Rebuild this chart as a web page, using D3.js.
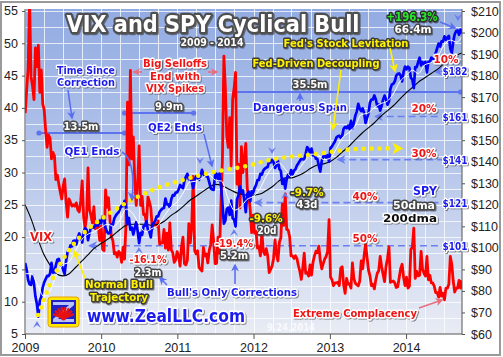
<!DOCTYPE html>
<html><head><meta charset="utf-8">
<script src="https://cdn.jsdelivr.net/npm/d3@7"></script>
<style>
html,body{margin:0;padding:0;background:#fff;}
svg{display:block;}
</style></head><body>
<svg id="c" width="503" height="357"></svg>
<script>
// ---------------- DATA ----------------
// Weekly VIX (Fridays from 2009-01-02)
const vixValues = [
 39.2,42.8,46.1,56.6,44.8,43.4,41.3,49.3,46.4,49.7,42.4,45.9,40.6,39.7,36.5,33.9,35.8,35.3,32.1,33.1,
 32.6,28.9,29.6,28.2,27.0,25.9,27.9,29.0,25.4,23.1,25.9,25.4,24.8,25.0,24.8,25.3,24.2,23.9,25.6,28.7,
 23.1,21.4,23.1,30.7,24.2,23.4,22.2,24.7,21.3,21.6,21.7,19.5,
 21.7,18.1,17.9,27.3,24.6,26.1,22.7,20.0,19.5,17.4,17.6,16.9,17.8,17.5,16.1,18.4,16.6,22.1,40.9,31.2,
 45.8,32.1,35.5,28.6,24.9,28.5,34.1,24.9,26.3,23.5,23.5,22.1,26.2,25.5,24.5,21.3,22.0,22.0,21.7,22.5,
 18.9,19.1,19.1,21.2,18.3,20.6,18.0,22.2,18.0,17.6,16.1,16.5,17.75,
 17.1,15.5,18.5,20.0,15.9,15.7,16.4,22.1,19.1,21.7,29.4,17.9,17.4,17.9,15.3,15.0,14.75,18.4,17.1,17.4,
 16.0,17.95,18.9,21.9,19.3,15.9,15.95,20.0,17.5,25.3,32.0,48.0,43.1,35.6,33.9,38.5,31.0,41.3,43.0,45.5,
 28.2,31.3,24.5,34.0,30.0,32.0,34.5,27.5,26.4,24.3,20.7,23.4,
 20.6,20.9,18.3,18.5,17.1,20.8,17.8,17.3,18.2,17.1,14.5,15.0,15.5,16.7,19.55,17.4,16.3,19.2,19.9,25.1,
 21.8,26.7,21.2,21.1,20.1,17.1,17.1,16.7,17.1,16.7,15.6,14.7,13.45,15.2,17.5,14.4,14.5,13.98,15.7,14.1,
 16.1,17.1,17.8,17.6,18.6,16.4,15.1,15.9,16.6,17.0,17.8,22.7,
 13.8,13.4,12.5,12.9,12.9,13.0,12.5,15.2,15.4,12.6,11.3,13.6,12.7,12.8,12.1,16.0,13.6,12.85,12.6,12.45,
 13.2,16.3,15.1,17.15,18.9,16.9,14.9,14.0,12.5,12.7,11.98,13.4,14.4,14.8,17.0,15.4,14.2,13.1,15.5,16.7,
 18.5,13.0,13.1,13.2,12.9,12.2,12.3,13.7,15.1,15.8,13.8,12.5,
 13.8,12.1,12.4,18.1,18.4,21.4,13.6,14.7,14.0,14.1,17.8,15.0,14.4,13.96,17.0,13.4,14.1,12.9,12.9,12.4,
 11.4,11.4,10.7,12.2,10.85,11.3,10.3,12.1,12.1,12.7,17.0,15.8,13.2,11.5,12.1,12.1,13.3,12.1,13.3
];
// Weekly SPY closes (same weeks)
const spyValues = [
 92.96,89.7,85.1,83.1,82.8,87.0,83.4,77.4,73.9,68.1,75.5,77.3,81.7,84.0,85.5,87.0,86.9,88.0,93.0,88.5,
 88.7,92.0,94.5,94.9,92.2,91.9,89.8,87.9,94.0,97.9,98.8,101.1,100.7,103.2,103.4,101.6,104.8,106.7,104.4,102.5,
 107.3,109.2,108.4,103.6,106.8,109.6,109.4,109.5,110.5,110.4,110.4,112.6,
 111.4,114.6,113.6,109.2,107.4,106.7,107.0,110.9,110.7,113.7,115.0,115.9,116.6,118.3,119.6,119.4,121.8,118.8,111.3,113.9,
 108.5,109.4,106.2,109.1,112.0,107.7,102.2,107.0,106.0,110.0,110.3,112.4,108.3,107.5,104.9,110.9,111.5,112.6,114.6,114.6,
 116.7,117.6,118.3,118.5,122.9,120.2,120.2,118.8,122.6,124.5,124.3,125.7,125.75,
 127.1,129.2,128.4,127.7,131.2,133.0,134.4,131.9,132.3,130.8,127.8,131.5,133.2,132.8,131.6,133.5,136.2,134.2,133.5,133.2,
 133.0,130.4,127.6,127.1,126.9,133.9,134.4,131.4,134.5,129.3,120.5,111.3,112.6,118.1,118.7,115.3,121.9,113.8,113.2,109.9,
 122.6,124.3,128.6,125.9,126.7,121.98,116.6,124.98,126.1,121.6,126.2,125.5,
 127.8,129.1,131.5,131.6,134.4,134.0,136.0,136.8,137.3,137.6,140.3,139.7,140.8,139.8,137.1,138.3,140.4,136.6,135.7,129.7,
 131.9,127.5,132.0,134.1,133.1,136.1,134.1,135.9,136.5,138.3,139.3,140.4,141.4,141.1,141.2,143.8,146.8,146.0,143.97,146.1,
 142.9,143.4,141.4,141.3,138.1,135.4,140.4,142.4,142.8,141.95,143.0,140.0,
 146.4,147.1,148.3,149.4,151.2,151.8,152.1,151.1,152.1,155.4,156.2,155.6,156.7,155.2,159.0,155.5,158.2,161.4,163.4,166.9,
 164.6,163.5,164.8,162.6,158.0,160.4,162.5,167.5,168.9,168.9,170.8,168.9,165.8,166.6,163.7,166.0,168.9,170.7,168.9,166.5,
 168.0,173.8,175.9,176.2,177.3,180.0,180.8,181.0,180.0,177.3,181.6,184.2,
 182.9,184.1,183.6,179.0,178.2,174.2,184.0,183.9,186.3,188.3,184.7,186.2,185.4,186.4,181.5,186.4,186.3,188.3,187.9,188.0,
 190.4,192.7,194.9,193.5,195.9,195.8,198.2,196.7,197.7,198.4,192.5,190.5,195.7,199.2,200.7,200.96,198.98,201.3,199.6
];
// Monthly moving averages (1st of month Jan 2009 .. Sep 2014, then 2014-09-24)
const sma50Values = [
 88,88,83,77.5,80,87.5,92,93.5,99,104,106.5,107.5,
 109.5,111,110,113,118,116,111,107.5,109,110.5,115,119,
 121.5,126,130.5,131,132.5,134,131.5,131,123,117.5,119,122.5,
 124,127.5,133,137.5,139.5,136.5,133,136,140,143.5,143.5,141,
 141.5,146,151,153.5,156.5,162,162.5,165,167,168,171.5,177,
 180,182.5,181,185,186,188.5,194,196.5,195.5,198
];
const sma200Values = [
 120,113,105,97,92,88,87,88,91,94,97,100,
 102,104,106,108.5,110.5,111,111,111,110.5,111,112.5,115,
 117,119.5,122,124,126,128,129.5,129,127.5,126,125,124.5,
 124.5,125,126.5,128.5,131,132.5,132.5,133.5,135,137,138.5,139,
 140,142,144.5,147,150,153,155.5,158,161,163.5,166,169,
 172,174.5,177,179,181,183,185.5,188,189.5,190.5
];
// "Normal bull trajectory" (yellow dots), SPY units
const trajDates = ["2009-03-05","2009-05-15","2009-07-24","2009-10-15","2010-01-15","2010-04-22","2010-09-05",
 "2011-01-25","2011-06-25","2011-11-28","2012-03-18","2012-10-30","2013-05-08","2013-10-22"];
const trajValues = [68.8,86,98,107.4,114.3,120.4,126.9,131.5,135.2,138,140.8,143.6,145.9,146.2];
// Correction levels below the $201 high
const levelValues = [101,121,141,161,182];
const levelPcts = ["50%","40%","30%","20%","10%"];
const levelStarts = ["2009-10-20","2011-12-22","2013-01-22","2013-07-20","2014-05-01"];
const vixTicks = [5,10,15,20,25,30,35,40,45,50,55];
const spyTicks = [60,70,80,90,100,110,120,130,140,150,160,170,180,190,200,210];
const yearTicks = ["2009","2010","2011","2012","2013","2014"];

// ---------------- SETUP ----------------
const P = d3.timeParse("%Y-%m-%d");
const W = 503, H = 357;
const L = 25, R = 462, T = 9, B = 334;
const svg = d3.select("#c");
const x = d3.scaleTime().domain([new Date(2009,0,1), new Date(2014,8,26)]).range([L, R]);
const yV = d3.scaleLinear().domain([5,55]).range([B, B-323]);
const yS = d3.scaleLinear().domain([60,210]).range([B, B-323]);
const weekDates = d3.range(vixValues.length).map(i => d3.timeDay.offset(new Date(2009,0,2), 7*i));
const monthDates = d3.timeMonth.range(new Date(2009,0,1), new Date(2014,8,2)).concat([new Date(2014,8,24)]);

const defs = svg.append("defs");
const gr = defs.append("linearGradient").attr("id","bg").attr("x1",0).attr("y1",0).attr("x2",0).attr("y2",1);
gr.append("stop").attr("offset","0%").attr("stop-color","#92abe2");
gr.append("stop").attr("offset","45%").attr("stop-color","#b3c4ea");
gr.append("stop").attr("offset","100%").attr("stop-color","#e9ecf4");
defs.append("clipPath").attr("id","clip").append("rect").attr("x",L).attr("y",T).attr("width",R-L).attr("height",B-T);
const sh = defs.append("filter").attr("id","sh").attr("x","-10%").attr("y","-30%").attr("width","120%").attr("height","160%");
sh.append("feDropShadow").attr("dx",1).attr("dy",1).attr("stdDeviation",0.7).attr("flood-color","#333").attr("flood-opacity",0.55);
function marker(id, color, w){
  defs.append("marker").attr("id",id).attr("viewBox","0 0 10 10").attr("refX",8).attr("refY",5)
    .attr("markerWidth",w||6).attr("markerHeight",w||6).attr("orient","auto-start-reverse").attr("markerUnits","userSpaceOnUse")
    .append("path").attr("d","M0,0 L10,5 L0,10 L3,5 z").attr("fill",color);
}
marker("aB","#5a6ff0",8); marker("aY","#fff000",9); marker("aR","#e8707e",8); marker("aL","#6b7ff2",9);

// frame + plot bg
svg.append("rect").attr("x",1).attr("y",2).attr("width",W-4).attr("height",H-4).attr("fill","#fff").attr("stroke","#9a9a9a").attr("stroke-width",2);
svg.append("rect").attr("x",L).attr("y",T).attr("width",R-L).attr("height",B-T).attr("fill","url(#bg)");

// grid
const grid = svg.append("g").attr("stroke","#ffffff").attr("stroke-opacity",0.75).attr("stroke-width",1);
d3.range(5,55.1,2.5).forEach(v => grid.append("line").attr("x1",L).attr("x2",R).attr("y1",Math.round(yV(v))+0.5).attr("y2",Math.round(yV(v))+0.5));
d3.timeMonth.every(3).range(new Date(2009,0,1), new Date(2014,9,1)).forEach(d => grid.append("line")
  .attr("x1",Math.round(x(d))+0.5).attr("x2",Math.round(x(d))+0.5).attr("y1",T).attr("y2",B));

const plot = svg.append("g").attr("clip-path","url(#clip)");

// correction level dashed lines
levelValues.forEach((v,i) => {
  const x1 = x(P(levelStarts[i])), x2 = i===4 ? x(P("2014-07-05")) : 442;
  plot.append("line").attr("x1",x1+4).attr("x2",x2).attr("y1",yS(v)).attr("y2",yS(v))
    .attr("stroke","#6b7ff2").attr("stroke-width",1.6).attr("stroke-dasharray", i===4 ? null : "7,4")
    .attr("marker-start","url(#aL)");
});

// span lines
function span(d1,d2,yy){
  const g = plot.append("g");
  g.append("line").attr("x1",x(P(d1))).attr("x2",x(P(d2))).attr("y1",yy).attr("y2",yy).attr("stroke","#5e74ee").attr("stroke-width",2);
  [d1,d2].forEach(d => g.append("circle").attr("cx",x(P(d))).attr("cy",yy).attr("r",2.6).attr("fill","#5e74ee"));
}
span("2009-03-09","2010-04-23",133);
span("2010-04-23","2011-03-20",113);
span("2011-10-03","2014-09-19",92);

// VIX
plot.append("path").datum(vixValues.map((v,i)=>[x(weekDates[i]), yV(v)]))
  .attr("d", d3.line()).attr("fill","none").attr("stroke","#ff0000").attr("stroke-width",2.8).attr("stroke-linejoin","round");
// 200dma
plot.append("path").datum(sma200Values.map((v,i)=>[x(monthDates[i]), yS(v)]))
  .attr("d", d3.line().curve(d3.curveMonotoneX)).attr("fill","none").attr("stroke","#000").attr("stroke-width",1.1);
// SPY
plot.append("path").datum(spyValues.map((v,i)=>[x(weekDates[i]), yS(v)]))
  .attr("d", d3.line()).attr("fill","none").attr("stroke","#0000ff").attr("stroke-width",2.7).attr("stroke-linejoin","round");
// 50dma
plot.append("path").datum(sma50Values.map((v,i)=>[x(monthDates[i]), yS(v)]))
  .attr("d", d3.line().curve(d3.curveMonotoneX)).attr("fill","none").attr("stroke","#fff").attr("stroke-width",1);
// trajectory dots
plot.append("path").datum(trajValues.map((v,i)=>[x(P(trajDates[i])), yS(v)]))
  .attr("d", d3.line().curve(d3.curveMonotoneX)).attr("fill","none").attr("stroke","#ffee00")
  .attr("stroke-width",4.6).attr("stroke-linecap","round").attr("stroke-dasharray","0,8");
{
  const ex = x(P(trajDates[trajDates.length-1])), ey = yS(trajValues[trajValues.length-1]);
  plot.append("path").attr("d",`M${ex+1},${ey-6} L${ex+12},${ey} L${ex+1},${ey+6} L${ex+4},${ey} z`).attr("fill","#ffee00");
}

// small chevrons
function chev(px,py,dir){
  const s = dir==="down" ? 1 : -1;
  svg.append("path").attr("d",`M${px-4},${py-4*s} L${px},${py+3*s} L${px+4},${py-4*s} L${px},${py-1*s} z`).attr("fill","#6a7cf0");
}
chev(37,324,"up"); chev(131,195,"down"); chev(200,161,"down"); chev(234,232,"up");
chev(272,151,"down"); chev(285,195,"up"); chev(458,18,"down"); chev(139,250,"up");

// axes
const axL = svg.append("g").attr("transform",`translate(${L},0)`).call(d3.axisLeft(yV).tickValues(vixTicks).tickSize(3).tickPadding(4));
const axR = svg.append("g").attr("transform",`translate(${R},0)`).call(d3.axisRight(yS).tickValues(spyTicks).tickSize(3).tickPadding(6).tickFormat(d=>"$"+d));
const axB = svg.append("g").attr("transform",`translate(0,${B})`).call(d3.axisBottom(x).tickValues(yearTicks.map(s=>new Date(+s,0,1))).tickSize(5).tickPadding(4).tickFormat(d3.timeFormat("%Y")));
[axL,axR,axB].forEach(a => {
  a.selectAll("path.domain").attr("stroke","#555");
  a.selectAll("line").attr("stroke","#555");
  a.selectAll("text").attr("font-family","'Liberation Sans',Arial,sans-serif").attr("font-size",12.5).attr("fill","#222");
});
axL.selectAll(".tick text").attr("dy","0.3em");
axL.select("path.domain").attr("d",`M0,${T}V${B}`);
axR.select("path.domain").attr("d",`M0,${T}V${B}`);
axB.select("path.domain").attr("d",`M${L},0H${R}`);

// ---------------- ANNOTATIONS ----------------
const ST = {
  wd:{fill:"#ffffff", stroke:"#474747"},
  bl:{fill:"#1b1bef", stroke:"#ffffff"},
  rd:{fill:"#f01414", stroke:"#ffffff"},
  yl:{fill:"#fff200", stroke:"#3a3a3a"},
  bk:{fill:"#111111", stroke:"#ffffff"},
  gr:{fill:"#2ae62a", stroke:"#2f2f2f"}
};
function label(cx, cy, s, st, fs, w, sw){
  const t = svg.append("text").attr("x",cx).attr("y",cy).attr("text-anchor","middle").attr("dominant-baseline","central")
    .attr("font-family","'DejaVu Sans',Verdana,sans-serif").attr("font-weight","bold").attr("font-size",fs)
    .attr("fill",ST[st].fill).attr("stroke",ST[st].stroke).attr("stroke-width",sw||3).attr("stroke-linejoin","round")
    .attr("paint-order","stroke").attr("filter","url(#sh)").text(s);
  if (w) t.attr("textLength",w).attr("lengthAdjust","spacingAndGlyphs");
  return t;
}
function arrow(d, color, m){
  svg.append("path").attr("d",d).attr("fill","none").attr("stroke",color).attr("stroke-width",1.6).attr("marker-end",`url(#${m})`);
}

// title
label(213, 24, "VIX and SPY Cyclical Bull", "wd", 23, 293, 4.5).attr("stroke","#505050");
label(212, 42, "2009 - 2014", "wd", 10, 63, 3);

label(86, 70, "Time Since", "bl", 11, 58);
label(86, 82, "Correction", "bl", 11, 58);
arrow("M68,90 L72,118", "#5a6ff0", "aB");
label(81, 126, "13.5m", "wd", 11, 35);

label(175, 63, "Big Selloffs", "rd", 11, 64);
label(175, 76, "End with", "rd", 11, 50);
label(175, 88, "VIX Spikes", "rd", 11, 58);
arrow("M142,72 L134,72", "#e8707e", "aR");
arrow("M208,72 L217,72", "#e8707e", "aR");
label(169, 106, "9.9m", "wd", 11, 28);

label(175, 127, "QE2 Ends", "bl", 11, 54);
arrow("M204,134 L212,166", "#5a6ff0", "aB");
label(92, 151, "QE1 Ends", "bl", 11, 55);
arrow("M122,152 Q136,160 132,200", "#5a6ff0", "aB");

label(41, 237, "VIX", "rd", 12, 22);
label(119, 284, "Normal Bull", "yl", 11, 68);
label(119, 297, "Trajectory", "yl", 11, 58);
arrow("M85,278 L74,251", "#fff000", "aY");

label(148, 259, "-16.1%", "rd", 11, 37);
label(148, 272, "2.3m", "wd", 11, 27);
label(232, 292, "Bull's Only Corrections", "bl", 11, 130);
arrow("M167,285 L160,278", "#5a6ff0", "aB");
arrow("M235,284 L235,265", "#5a6ff0", "aB");
label(234, 243, "-19.4%", "rd", 11, 38);
label(234, 255, "5.2m", "wd", 11, 28);

label(266, 218, "-9.6%", "yl", 11, 33);
label(267, 230, "20d", "wd", 11, 19);
label(307, 192, "-9.7%", "yl", 11, 33);
label(307, 204, "43d", "wd", 11, 21);

label(310, 84, "35.5m", "wd", 11, 35);
label(300, 107, "Dangerous Span", "bl", 11, 94);
arrow("M300,101 L300,94", "#5a6ff0", "aB");
label(316, 63, "Fed-Driven Decoupling", "yl", 11, 127);
arrow("M341,70 L333,129", "#fff000", "aY");
label(346, 43, "Fed's Stock Levitation", "yl", 11, 125);
arrow("M390,48 L395,71", "#fff000", "aY");
label(412, 17, "+196.3%", "gr", 12, 51);
label(413, 29, "66.4m", "wd", 11, 37);
arrow("M440,22 L455,28", "#5a6ff0", "aB");

// level labels
const pctPos = [[365,238],[365,196],[424,153],[424,108],[446,59]];
levelValues.forEach((v,i) => {
  label(pctPos[i][0], pctPos[i][1], levelPcts[i], "rd", 11, 25);
  label(455, yS(v), "$"+v, "bl", 10.5, 25, 2.6);
});

label(425, 191, "SPY", "bl", 12, 24);
label(414, 205, "50dma", "wd", 11, 42);
label(410, 218, "200dma", "bk", 11, 54);

label(355, 313, "Extreme Complacency", "rd", 11, 124);
arrow("M419,308 L442,300", "#e8707e", "aR");
svg.append("text").attr("x",291).attr("y",327).attr("text-anchor","middle").attr("dominant-baseline","central")
  .attr("font-family","'DejaVu Sans',Verdana,sans-serif").attr("font-weight","bold").attr("font-size",10)
  .attr("fill","#ffffff").attr("fill-opacity",0.75).attr("textLength",48).attr("lengthAdjust","spacingAndGlyphs").text("9.24.2014");

label(166, 316, "www.ZealLLC.com", "bl", 17, 158, 3.5);

// logo
{
  const g = svg.append("g").attr("transform","translate(48,297)");
  g.append("rect").attr("x",0).attr("y",0).attr("width",31).attr("height",30).attr("rx",3)
    .attr("fill","#ffe800").attr("stroke","#e6a000").attr("stroke-width",1);
  g.append("rect").attr("x",3).attr("y",3).attr("width",25).attr("height",24).attr("fill","#2020c8");
  g.append("path").attr("d","M5,5 H26 V8 L10,22 H26 V25 H5 V22 L21,8 H5 Z").attr("fill","#c8d4ff").attr("opacity",0.9);
  const fan = g.append("g").attr("transform","translate(15.5,21)");
  d3.range(-70,71,20).forEach(a => {
    const r = Math.PI*a/180;
    fan.append("line").attr("x1",0).attr("y1",0).attr("x2",11*Math.sin(r)).attr("y2",-11*Math.cos(r))
      .attr("stroke","#e81010").attr("stroke-width",2.4);
  });
  fan.append("circle").attr("r",2.5).attr("fill","#e81010");
}
</script>
</body></html>
